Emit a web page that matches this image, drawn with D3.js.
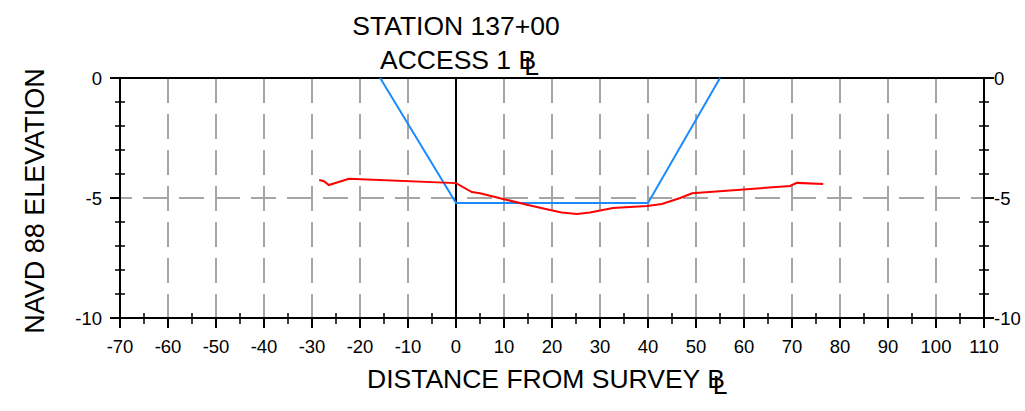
<!DOCTYPE html>
<html>
<head>
<meta charset="utf-8">
<script src="https://cdn.jsdelivr.net/npm/d3@7"></script>
<style>
  html, body { margin: 0; padding: 0; background: #fff; }
  svg { display: block; font-family: "Liberation Sans", Arial, sans-serif; }
</style>
</head>
<body>
<svg id="chart" width="1025" height="411"></svg>
<script>
// ---- data ----
const titleLine1 = "STATION 137+00";
const titleLine2 = "ACCESS 1 ";
const xLabel = "DISTANCE FROM SURVEY ";
const yLabel = "NAVD 88 ELEVATION";
const xTickValues = [-70, -60, -50, -40, -30, -20, -10, 0, 10, 20, 30, 40, 50, 60, 70, 80, 90, 100, 110];
const yTickValues = [0, -5, -10];
const designX = [-15.8, 0, 40, 55];
const designY = [0, -5.21, -5.21, 0];
const groundX = [-28.5, -27.5, -26.5, -22.3, 0, 3.3, 5, 9.8, 15, 19.6, 22, 25.2, 27.9, 32.7, 39.8, 42.9, 46.7, 49.2, 69.6, 71, 76.5];
const groundY = [-4.25, -4.3, -4.46, -4.2, -4.38, -4.75, -4.8, -5.04, -5.29, -5.5, -5.6, -5.67, -5.6, -5.42, -5.33, -5.25, -5.0, -4.8, -4.5, -4.37, -4.42];

// ---- layout ----
const svg = d3.select("#chart");
const x = d3.scaleLinear().domain([-70, 110]).range([120, 984]);
const y = d3.scaleLinear().domain([-10, 0]).range([318, 78]);
const x0 = x.range()[0], x1 = x.range()[1];
const yTop = y(0), yBot = y(-10);
const grid = "#a6a6a6";

// grid verticals every 10 (interior)
const gridX = xTickValues.filter(v => v > -70 && v < 110 && v !== 0);
svg.append("g").selectAll("line").data(gridX).join("line")
  .attr("x1", d => x(d)).attr("x2", d => x(d))
  .attr("y1", yTop).attr("y2", yBot)
  .attr("stroke", grid).attr("stroke-width", 2)
  .attr("stroke-dasharray", "25,11");
// horizontal grid at -5
svg.append("line")
  .attr("x1", x0).attr("x2", x1).attr("y1", y(-5)).attr("y2", y(-5))
  .attr("stroke", grid).attr("stroke-width", 2)
  .attr("stroke-dasharray", "25,11").attr("stroke-dashoffset", 13);

// frame
const black = "#000";
svg.append("line").attr("x1", x0).attr("x2", x1).attr("y1", yTop).attr("y2", yTop).attr("stroke", black).attr("stroke-width", 2);
svg.append("line").attr("x1", x0).attr("x2", x1).attr("y1", yBot).attr("y2", yBot).attr("stroke", black).attr("stroke-width", 2);
svg.append("line").attr("x1", x0).attr("x2", x0).attr("y1", yTop).attr("y2", yBot + 10).attr("stroke", black).attr("stroke-width", 2);
svg.append("line").attr("x1", x1).attr("x2", x1).attr("y1", yTop).attr("y2", yBot + 10).attr("stroke", black).attr("stroke-width", 2);
// zero line
svg.append("line").attr("x1", x(0)).attr("x2", x(0)).attr("y1", yTop).attr("y2", yBot).attr("stroke", black).attr("stroke-width", 2);

// x ticks
const xMinor = d3.range(-65, 110, 10);
svg.append("g").selectAll("line").data(xMinor).join("line")
  .attr("x1", d => x(d)).attr("x2", d => x(d))
  .attr("y1", yBot - 5).attr("y2", yBot + 6)
  .attr("stroke", black).attr("stroke-width", 1.5);
svg.append("g").selectAll("line").data(xTickValues).join("line")
  .attr("x1", d => x(d)).attr("x2", d => x(d))
  .attr("y1", yBot - 1).attr("y2", yBot + 10)
  .attr("stroke", black).attr("stroke-width", 2);
svg.append("g").selectAll("text").data(xTickValues).join("text")
  .attr("x", d => x(d)).attr("y", 353)
  .attr("text-anchor", "middle").attr("font-size", 18.5)
  .text(d => d);

// y ticks (both sides)
const yMinor = d3.range(-9, 0, 1).filter(v => v !== -5);
[x0, x1].forEach((ax, i) => {
  const dir = i === 0 ? -1 : 1;
  svg.append("g").selectAll("line").data(yMinor).join("line")
    .attr("x1", ax - 5).attr("x2", ax + 5)
    .attr("y1", d => y(d)).attr("y2", d => y(d))
    .attr("stroke", black).attr("stroke-width", 1.5);
  svg.append("g").selectAll("line").data(yTickValues).join("line")
    .attr("x1", ax).attr("x2", ax + dir * 10)
    .attr("y1", d => y(d)).attr("y2", d => y(d))
    .attr("stroke", black).attr("stroke-width", 2);
  svg.append("g").selectAll("text").data(yTickValues).join("text")
    .attr("x", i === 0 ? ax - 18 : ax + 10)
    .attr("y", d => y(d) + 7)
    .attr("text-anchor", i === 0 ? "end" : "start")
    .attr("font-size", 18.5)
    .text(d => d);
});

// lines
const line = d3.line().x(d => x(d[0])).y(d => y(d[1]));
svg.append("path").datum(designX.map((v, i) => [v, designY[i]]))
  .attr("d", line).attr("fill", "none").attr("stroke", "#1a8cff").attr("stroke-width", 2);
svg.append("path").datum(groundX.map((v, i) => [v, groundY[i]]))
  .attr("d", line).attr("fill", "none").attr("stroke", "#ff0000").attr("stroke-width", 2);

// titles
function clText(sel) {
  sel.append("tspan").text("B");
  sel.append("tspan").attr("dx", -12).attr("dy", 6).text("L");
}
svg.append("text").attr("x", 456).attr("y", 35).attr("text-anchor", "middle")
  .attr("font-size", 26.5).text(titleLine1);
const t2 = svg.append("text").attr("x", 380).attr("y", 69).attr("font-size", 26.5);
t2.append("tspan").text(titleLine2);
clText(t2);
const xl = svg.append("text").attr("x", 367).attr("y", 388).attr("font-size", 26.5);
xl.append("tspan").text(xLabel);
clText(xl);
svg.append("text")
  .attr("transform", "translate(44,201) rotate(-90)")
  .attr("text-anchor", "middle").attr("font-size", 27)
  .text(yLabel);
</script>
</body>
</html>
